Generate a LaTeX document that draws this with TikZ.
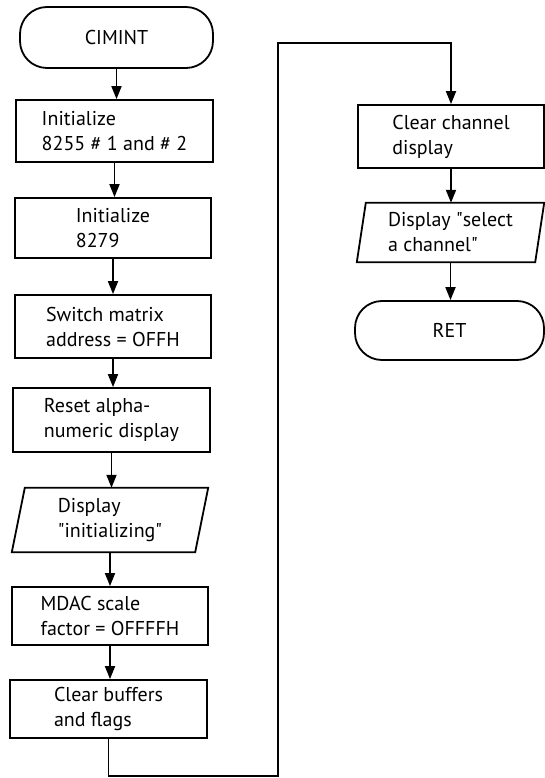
\documentclass[tikz,border=0pt]{standalone}
\usepackage{fontspec}
\setmainfont{PT Sans}
\usetikzlibrary{arrows.meta}
\newcommand{\dq}{\textquotedbl}
\begin{document}
\begin{tikzpicture}[x=1pt,y=-1pt,
  every node/.style={font=\fontsize{20}{25}\selectfont, align=left, inner sep=0pt},
  outline/.style={line width=1.8pt},
  procbox/.style={draw, outline, rectangle},
  termbox/.style={draw, outline, rectangle, rounded corners=27pt},
  iobox/.style={rectangle},
  flow/.style={outline, -{Triangle[length=13pt,width=10pt]}}]
\useasboundingbox (0,0) rectangle (545,778);

% left column
\node[termbox, minimum width=193pt, minimum height=61pt] (start) at (116.5,37.5) {CIMINT};
\node[procbox, minimum width=197pt, minimum height=62pt] (init1) at (114.5,131) {Initialize\\8255 \# 1 and \# 2};
\node[procbox, minimum width=196pt, minimum height=60pt] (init2) at (113,228) {Initialize\\8279};
\node[procbox, minimum width=196pt, minimum height=63pt] (swm) at (113,326.5) {Switch matrix\\address = OFFH};
\node[procbox, minimum width=197pt, minimum height=64pt] (reset) at (111.5,420) {Reset alpha-\\numeric display};
\node[iobox, minimum width=196pt, minimum height=64pt] (disp1) at (110,520) {Display\\\dq initializing\dq};
\draw[outline] ([xshift=13pt]disp1.north west) -- (disp1.north east)
  -- ([xshift=-13pt]disp1.south east) -- (disp1.south west) -- cycle;
\node[procbox, minimum width=196pt, minimum height=58pt] (mdac) at (110,616) {MDAC scale\\factor = OFFFFH};
\node[procbox, minimum width=197pt, minimum height=58pt] (clrbuf) at (108.5,709) {Clear buffers\\and flags};

% right column
\node[procbox, minimum width=186pt, minimum height=63pt] (clrch) at (451,136.5) {Clear channel\\display};
\node[iobox, minimum width=187pt, minimum height=59pt] (disp2) at (450.5,232.5) {Display \dq select\\a channel\dq};
\draw[outline] ([xshift=9pt]disp2.north west) -- (disp2.north east)
  -- ([xshift=-9pt]disp2.south east) -- (disp2.south west) -- cycle;
\node[termbox, minimum width=189pt, minimum height=59pt] (ret) at (449.5,330.5) {RET};

% connectors
\draw[flow] (start.south) -- (start.south |- init1.north);
\draw[flow] (init1.south) -- (init1.south |- init2.north);
\draw[flow] (init2.south) -- (init2.south |- swm.north);
\draw[flow] (swm.south) -- (swm.south |- reset.north);
\draw[flow] (reset.south) -- (reset.south |- disp1.north);
\draw[flow] (disp1.south) -- (disp1.south |- mdac.north);
\draw[flow] (mdac.south) -- (mdac.south |- clrbuf.north);
\coordinate (loopdown) at (108.5,776);
\coordinate (loopup) at (278,43);
\draw[flow] (clrbuf.south) -- (clrbuf.south |- loopdown) -| (loopup) -| (clrch.north);
\draw[flow] (clrch.south) -- (clrch.south |- disp2.north);
\draw[flow] (disp2.south) -- (disp2.south |- ret.north);
\end{tikzpicture}
\end{document}
